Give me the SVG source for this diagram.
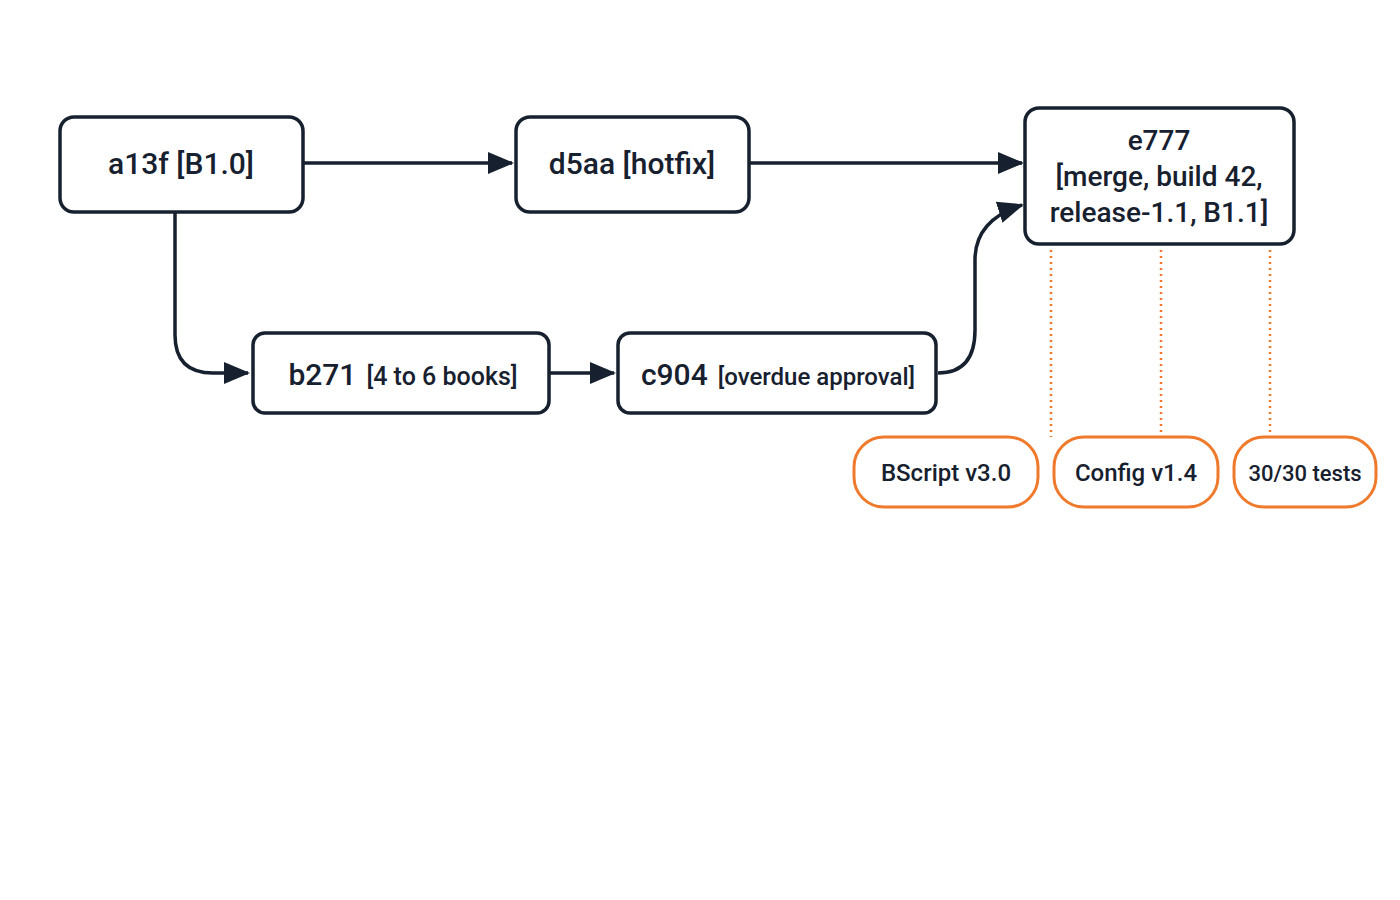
<svg xmlns="http://www.w3.org/2000/svg" width="1400" height="900" viewBox="0 0 1400 900">
<style>
.n{fill:#fff;stroke:#17202e;stroke-width:3.5}
.p{fill:#fff;stroke:#f07a2c;stroke-width:3}
.t{font-family:Roboto,"Liberation Sans",sans-serif;font-weight:500;fill:#17202e;text-anchor:middle}
.c{fill:none;stroke:#17202e;stroke-width:3.5}
.d{stroke:#f07a2c;stroke-width:2.5;stroke-dasharray:2 4}
</style>
<defs><marker id="m" viewBox="0 0 26 26" refX="24" refY="13" markerWidth="26" markerHeight="26" markerUnits="userSpaceOnUse" orient="auto"><path d="M0,2 L26,13 L0,24 z" fill="#17202e"/></marker></defs>
<rect width="1400" height="900" fill="#fff"/>
<g id="connectors">
<path class="c" d="M303,163 H512" marker-end="url(#m)"/>
<path class="c" d="M750,163 H1022" marker-end="url(#m)"/>
<path class="c" d="M175,212 V335 Q175,373 213,373 H248" marker-end="url(#m)"/>
<path class="c" d="M550,373 H614" marker-end="url(#m)"/>
<path class="c" d="M938,373 Q975,373 975,330 V260 Q975,220 1022,205" marker-end="url(#m)"/>
<line class="d" x1="1051" y1="250" x2="1051" y2="437"/>
<line class="d" x1="1161" y1="250" x2="1161" y2="437"/>
<line class="d" x1="1270" y1="250" x2="1270" y2="437"/>
</g>
<g id="a13f"><rect class="n" x="60" y="117" width="243" height="95" rx="14"/><text class="t" x="181" y="174" font-size="30">a13f [B1.0]</text></g>
<g id="d5aa"><rect class="n" x="516" y="117" width="233" height="95" rx="14"/><text class="t" x="632" y="174" font-size="30">d5aa [hotfix]</text></g>
<g id="e777"><rect class="n" x="1025" y="108" width="269" height="136" rx="14"/>
<text class="t" x="1159" y="150" font-size="28">e777</text>
<text class="t" x="1159" y="186" font-size="28">[merge, build 42,</text>
<text class="t" x="1159" y="222" font-size="28">release-1.1, B1.1]</text></g>
<g id="b271"><rect class="n" x="253" y="333" width="296" height="80" rx="12"/><text class="t" x="403" y="385"><tspan font-size="30">b271</tspan><tspan font-size="25" dx="10">[4 to 6 books]</tspan></text></g>
<g id="c904"><rect class="n" x="618" y="333" width="318" height="80" rx="12"/><text class="t" x="778" y="385"><tspan font-size="30">c904</tspan><tspan font-size="24" dx="10">[overdue approval]</tspan></text></g>
<g id="bscript"><rect class="p" x="854" y="437" width="184" height="70" rx="30"/><text class="t" x="946" y="481" font-size="24">BScript v3.0</text></g>
<g id="config"><rect class="p" x="1054" y="437" width="164" height="70" rx="30"/><text class="t" x="1136" y="481" font-size="24">Config v1.4</text></g>
<g id="tests"><rect class="p" x="1234" y="437" width="142" height="70" rx="30"/><text class="t" x="1305" y="481" font-size="22">30/30 tests</text></g>
</svg>
